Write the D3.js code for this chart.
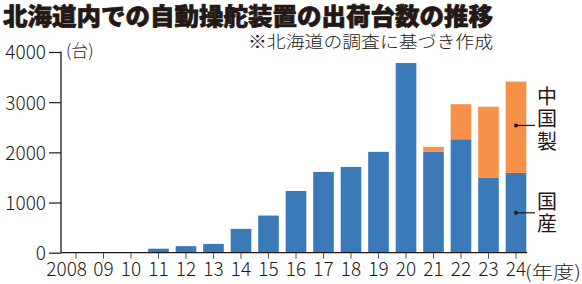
<!DOCTYPE html>
<html>
<meta charset="utf-8">
<head>
<script src="https://d3js.org/d3.v7.min.js"></script>
<title>自動操舵装置の出荷台数</title>
<style>
html, body {
	margin: 0;
	padding: 0;
	background: #fff;
}
svg {
	display: block;
	font-family: 'Noto Sans CJK JP', 'Noto Sans', sans-serif;
}
</style>
</head>
<body>
<svg></svg>
<script>
var width = 582;
var height = 284;
var ink = "#231815";

// data
var years = ["2008", "09", "10", "11", "12", "13", "14", "15", "16", "17", "18", "19", "20", "21", "22", "23", "24"];
var domestic = [0, 0, 10, 80, 130, 175, 475, 740, 1230, 1610, 1710, 2010, 3780, 2010, 2260, 1490, 1590];
var chinese = [0, 0, 0, 0, 0, 0, 0, 0, 0, 0, 0, 0, 0, 100, 700, 1420, 1820];
var yTicks = [0, 1000, 2000, 3000, 4000];

var colors = {domestic: "#3a7ab9", chinese: "#f7914a"};

var rows = years.map(function(y, i) {
	return {year: y, domestic: domestic[i], chinese: chinese[i]};
});
var series = d3.stack().keys(["domestic", "chinese"])(rows);

var svg = d3.select("svg")
	.attr("width", width)
	.attr("height", height);

var x = d3.scaleBand()
	.domain(years)
	.range([62.25, 529.75])
	.paddingInner(0.25)
	.paddingOuter(0.125);

var y = d3.scaleLinear()
	.domain([0, 4000])
	.range([252.7, 52]);

// bars
svg.append("g")
	.selectAll("g")
	.data(series)
	.enter().append("g")
		.attr("fill", function(d) { return colors[d.key]; })
	.selectAll("rect")
	.data(function(d) { return d; })
	.enter().append("rect")
		.attr("x", function(d) { return x(d.data.year); })
		.attr("width", x.bandwidth())
		.attr("y", function(d) { return y(d[1]); })
		.attr("height", function(d) { return Math.max(0, y(d[0]) - y(d[1])); });

// y axis
var yAxis = svg.append("g")
	.attr("transform", "translate(61,0)")
	.call(d3.axisLeft(y).tickValues(yTicks).tickFormat(d3.format("d"))
		.tickSize(12).tickPadding(3).tickSizeOuter(0));
yAxis.select(".domain").remove();
yAxis.append("line")
	.attr("x1", 0).attr("x2", 0)
	.attr("y1", y(4000) - 0.6).attr("y2", y(0))
	.attr("stroke", ink).attr("stroke-width", 1.3);
yAxis.selectAll(".tick line").attr("stroke", ink).attr("stroke-width", 1.2);
yAxis.selectAll(".tick text")
	.attr("fill", ink)
	.style("font-size", "19px")
	.style("font-weight", 300)
	.attr("dy", "0.36em");

// x axis
var xAxis = svg.append("g")
	.attr("transform", "translate(0," + y(0) + ")")
	.call(d3.axisBottom(x).tickSize(6).tickPadding(2).tickSizeOuter(0));
xAxis.select(".domain").remove();
xAxis.append("line")
	.attr("x1", 61).attr("x2", 527)
	.attr("stroke", ink).attr("stroke-width", 1.3);
xAxis.selectAll(".tick line").attr("stroke", "#555").attr("stroke-width", 1);
xAxis.selectAll(".tick text")
	.attr("fill", ink)
	.style("font-size", "19px")
	.style("font-weight", 300)
	.attr("dy", "0.78em")
	.attr("text-anchor", function(d) { return d === "2008" ? "end" : "middle"; })
	.attr("x", function(d) { return d === "2008" ? 11 : 0; });

svg.selectAll(".tick text").style("font-family", "'Noto Sans CJK JP', sans-serif");

// unit labels
svg.append("text")
	.attr("x", 66).attr("y", 57)
	.attr("fill", ink)
	.style("font-size", "17px")
	.style("font-weight", 300)
	.text("(台)");

svg.append("text")
	.attr("x", 525).attr("y", 279)
	.attr("fill", ink)
	.style("font-size", "18px")
	.style("font-weight", 300)
	.attr("textLength", 56)
	.attr("lengthAdjust", "spacingAndGlyphs")
	.text("(年度)");

// title (heavy)
svg.append("text")
	.attr("x", 3).attr("y", 25)
	.attr("fill", ink)
	.attr("stroke", ink)
	.attr("stroke-width", 0.7)
	.style("font-size", "24px")
	.style("font-weight", 900)
	.attr("textLength", 490)
	.attr("lengthAdjust", "spacingAndGlyphs")
	.text("北海道内での自動操舵装置の出荷台数の推移");

svg.append("text")
	.attr("x", 248).attr("y", 48)
	.attr("fill", ink)
	.style("font-size", "17px")
	.style("font-weight", 300)
	.attr("textLength", 245)
	.attr("lengthAdjust", "spacingAndGlyphs")
	.text("※北海道の調査に基づき作成");

// series labels with leader lines
var last = rows[rows.length - 1];
var cx = x(last.year) + x.bandwidth() / 2;
var labels = [
	{text: "中国製", y: y(last.domestic + last.chinese * 0.52), top: 86},
	{text: "国産", y: y(last.domestic * 0.5), top: 191}
];
var lg = svg.append("g");
labels.forEach(function(l) {
	lg.append("circle")
		.attr("cx", cx).attr("cy", l.y).attr("r", 2)
		.attr("fill", ink);
	lg.append("line")
		.attr("x1", cx).attr("x2", 535)
		.attr("y1", l.y).attr("y2", l.y)
		.attr("stroke", ink).attr("stroke-width", 1.2);
	lg.append("text")
		.attr("x", 547)
		.attr("y", l.top)
		.attr("fill", ink)
		.style("font-size", "20px")
		.style("writing-mode", "vertical-rl")
		.style("letter-spacing", "2.5px")
		.text(l.text);
});
</script>
</body>
</html>
